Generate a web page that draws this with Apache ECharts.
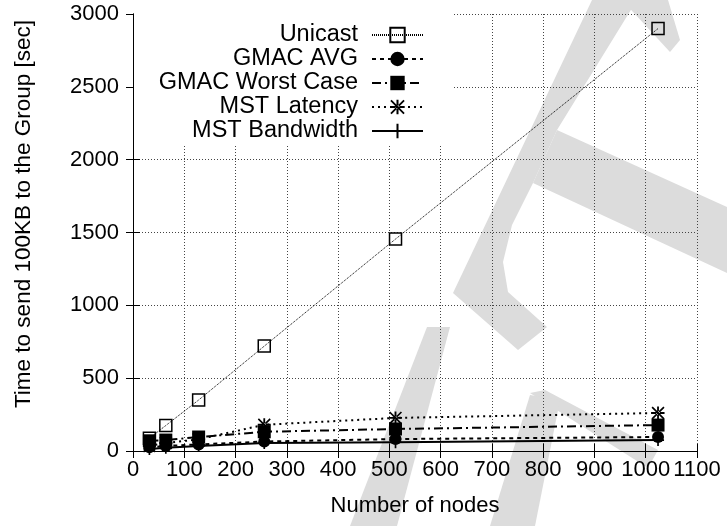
<!DOCTYPE html>
<html>
<head>
<meta charset="utf-8">
<script src="https://cdn.jsdelivr.net/npm/echarts@6/dist/echarts.min.js"></script>
<style>html,body{margin:0;padding:0;background:#fff}#c{width:727px;height:526px}</style>
</head>
<body>
<div id="c"></div>
<script>
var nodes = [32, 64, 128, 256, 512, 1024];
var seriesNames = ['Unicast', 'GMAC AVG', 'GMAC Worst Case', 'MST Latency', 'MST Bandwidth'];
var unicast = [88, 175, 350, 720, 1455, 2900];
var gmacAvg = [25, 35, 45, 65, 82, 96];
var gmacWorst = [70, 75, 96, 132, 151, 178];
var mstLatency = [35, 55, 80, 180, 227, 261];
var mstBandwidth = [14, 22, 34, 55, 60, 75];
var xTicks = {min: 0, max: 1100, interval: 100};
var yTicks = {min: 0, max: 3000, interval: 500};
var xTitle = 'Number of nodes';
var yTitle = 'Time to send 100KB to the Group [sec]';

function pairs(vals) { return nodes.map(function (n, i) { return [n, vals[i]]; }); }
function plain(v) { return String(v); }

var FONT = 'Liberation Sans';
var asterisk = 'path://M4.3,0h1.4v10h-1.4z M0,4.3h10v1.4h-10z M0,0.9L0.9,0L10,9.1L9.1,10z M10,0.9L9.1,0L0,9.1L0.9,10z';
var plus = 'path://M4.3,0h1.4v10h-1.4z M0,4.3h10v1.4h-10z';

function mk(name, vals, symbol, size, lineType, width, itemStyle) {
  return {
    name: name, type: 'line', xAxisIndex: 0, yAxisIndex: 0,
    data: pairs(vals), symbol: symbol, symbolSize: size, showSymbol: true,
    lineStyle: {color: '#000', width: width, type: lineType},
    itemStyle: itemStyle || {color: '#000'},
    emphasis: {disabled: true}, animation: false, z: 3
  };
}

var chart = echarts.init(document.getElementById('c'), null, {renderer: 'canvas'});
var gray = '#dcdcdc';
chart.setOption({
  animation: false,
  backgroundColor: '#fff',
  grid: {left: 133, right: 30, top: 14, bottom: 75},
  graphic: [
    {type: 'polygon', z: -10, shape: {points: [[592,0],[637,0],[557,130],[533,183],[512,225],[503,262],[508,292],[547,327],[518,350],[453,293]]}, style: {fill: gray}},
    {type: 'polygon', z: -10, shape: {points: [[622,0],[668,0],[680,40],[670,52]]}, style: {fill: gray}},
    {type: 'polygon', z: -10, shape: {points: [[557,130],[727,207],[727,273],[533,183]]}, style: {fill: gray}},
    {type: 'polygon', z: -10, shape: {points: [[427,327],[450,327],[397,526],[350,526]]}, style: {fill: gray}},
    {type: 'polygon', z: -10, shape: {points: [[530,393],[545,390],[658,450],[648,468]]}, style: {fill: gray}},
    {type: 'polygon', z: -10, shape: {points: [[530,395],[560,400],[535,526],[490,526]]}, style: {fill: gray}},
    {type: 'text', z: 10,
      style: {text: yTitle, font: '22.5px "Liberation Sans"', fill: '#000', textAlign: 'center', textVerticalAlign: 'middle', x: 0, y: 0},
      rotation: Math.PI / 2, position: [24, 214]}
  ],
  legend: {
    orient: 'vertical', left: 134, top: 14, align: 'right',
    backgroundColor: '#fff', padding: [9, 30, 3, 24],
    itemWidth: 51, itemHeight: 18, itemGap: 0,
    textStyle: {fontFamily: FONT, fontSize: 23.5, color: '#000', width: 200, align: 'right', lineHeight: 20, padding: [0, 9, 0, 0]},
    data: seriesNames, selectedMode: false
  },
  xAxis: [
    {type: 'value', min: xTicks.min, max: xTicks.max, interval: xTicks.interval, position: 'bottom',
      name: xTitle, nameLocation: 'middle', nameGap: 44,
      nameTextStyle: {fontFamily: FONT, fontSize: 22, color: '#000'},
      axisLine: {show: true, lineStyle: {color: '#000', width: 1}},
      axisTick: {show: true, inside: true, length: 7, lineStyle: {color: '#000'}},
      axisLabel: {fontFamily: FONT, fontSize: 22, color: '#000', margin: 8, hideOverlap: false, showMaxLabel: true, showMinLabel: true, formatter: plain},
      splitLine: {show: true, lineStyle: {color: '#444', type: [1, 2], width: 1}}},
    {type: 'value', min: xTicks.min, max: xTicks.max, interval: xTicks.interval, position: 'top',
      axisLine: {show: true, lineStyle: {color: '#000', width: 1}},
      axisTick: {show: true, inside: true, length: 7, lineStyle: {color: '#000'}},
      axisLabel: {show: false}, splitLine: {show: false}}
  ],
  yAxis: [
    {type: 'value', min: yTicks.min, max: yTicks.max, interval: yTicks.interval, position: 'left',
      axisLine: {show: true, lineStyle: {color: '#000', width: 1}},
      axisTick: {show: true, inside: true, length: 7, lineStyle: {color: '#000'}},
      axisLabel: {fontFamily: FONT, fontSize: 22, color: '#000', margin: 14, formatter: plain},
      splitLine: {show: true, lineStyle: {color: '#444', type: [1, 2], width: 1}}},
    {type: 'value', min: yTicks.min, max: yTicks.max, interval: yTicks.interval, position: 'right',
      axisLine: {show: true, lineStyle: {color: '#000', width: 1}},
      axisTick: {show: true, inside: true, length: 7, lineStyle: {color: '#000'}},
      axisLabel: {show: false}, splitLine: {show: false}}
  ],
  series: [
    mk(seriesNames[0], unicast, 'rect', 12, [1, 1], 1, {color: 'rgba(255,255,255,0)', borderColor: '#000', borderWidth: 1.5}),
    mk(seriesNames[1], gmacAvg, 'circle', 12, [4, 4], 2),
    mk(seriesNames[2], gmacWorst, 'rect', 13, [9, 4, 2, 4], 2),
    mk(seriesNames[3], mstLatency, asterisk, 13, [2, 4], 2),
    mk(seriesNames[4], mstBandwidth, plus, 12, 'solid', 2)
  ]
});
</script>
</body>
</html>
